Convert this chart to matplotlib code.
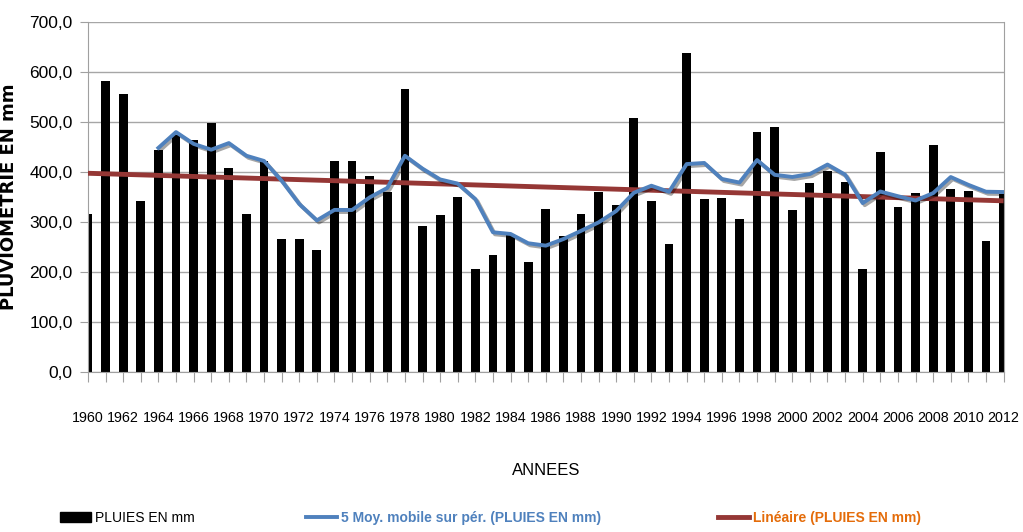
import numpy as np
import pandas as pd
import matplotlib
matplotlib.use('Agg')
import matplotlib.pyplot as plt
import matplotlib.patheffects as pe
from matplotlib.patches import Patch
from matplotlib.lines import Line2D
from matplotlib.ticker import FuncFormatter

years = list(range(1960, 2013))
pluies = [317, 583, 557, 343, 444, 475, 465, 499, 409, 317,
          423, 267, 266, 245, 422, 422, 393, 361, 567, 293,
          314, 351, 206, 235, 276, 221, 327, 272, 317, 361,
          335, 509, 343, 256, 639, 346, 349, 307, 481, 491,
          325, 378, 402, 380, 206, 441, 331, 359, 454, 367,
          363, 262, 356]

font = ['Liberation Sans', 'DejaVu Sans']
plt.rcParams['font.family'] = font

s = pd.Series(pluies, index=years)
moy = s.rolling(5).mean()
a, b = np.polyfit(years, pluies, 1)
trend = a * np.array(years) + b

blue = '#4F81BD'
red = '#953735'

fig = plt.figure(figsize=(10.23, 5.32), dpi=100)
ax = fig.add_axes([0.086, 0.3008, 0.895, 0.657])

ax.bar(years, pluies, width=0.5, color='black', zorder=2)
ax.plot(years, moy.values, color=blue, lw=2.8, zorder=4,
        path_effects=[pe.SimpleLineShadow(offset=(1.5, -1.5), alpha=0.35),
                      pe.Normal()])
ax.plot(years, trend, color=red, lw=3.5, zorder=3, solid_capstyle='butt')

ax.set_xlim(1960, 2012)
ax.set_ylim(0, 700)
ax.set_yticks(range(0, 701, 100))
ax.yaxis.set_major_formatter(FuncFormatter(lambda v, p: f'{v:.1f}'.replace('.', ',')))
ax.set_xticks(years)
ax.set_xticklabels([str(y) if y % 2 == 0 else '' for y in years])
ax.tick_params(axis='x', length=7, color='#a0a0a0', pad=21, labelsize=10.3)
ax.tick_params(axis='y', length=6, color='#a0a0a0', pad=5, labelsize=12.5)

ax.grid(axis='y', color='#a6a6a6', lw=1, zorder=0)
ax.set_axisbelow(True)
ax.spines['top'].set_visible(False)
for sp in ['left', 'right', 'bottom']:
    ax.spines[sp].set_color('#a0a0a0')

ax.set_ylabel('PLUVIOMETRIE EN mm', fontsize=13, fontweight='bold',
              family=['DejaVu Sans'])
ax.yaxis.set_label_coords(-0.076, 0.5)
ax.set_xlabel('ANNEES', fontsize=12)
ax.xaxis.set_label_coords(0.5, -0.26)

# legend, three entries spread along the bottom
entries = [
    (Patch(color='black'), 'PLUIES EN mm', 'black', 'normal', 60),
    (Line2D([], [], color=blue, lw=2.8), '5 Moy. mobile sur pér. (PLUIES EN mm)', blue, 'bold', 306),
    (Line2D([], [], color=red, lw=3.5), 'Linéaire (PLUIES EN mm)', '#E46C0A', 'bold', 718),
]
for h, lab, col, w, xpix in entries:
    leg = fig.legend([h], [lab], loc='center left',
                     bbox_to_anchor=(xpix / 1023, 1 - 518 / 532),
                     frameon=False, borderpad=0, borderaxespad=0,
                     handlelength=2.2, handletextpad=0.3,
                     prop={'size': 10, 'weight': w})
    leg.get_texts()[0].set_color(col)

fig.savefig('out.png', dpi=100)
